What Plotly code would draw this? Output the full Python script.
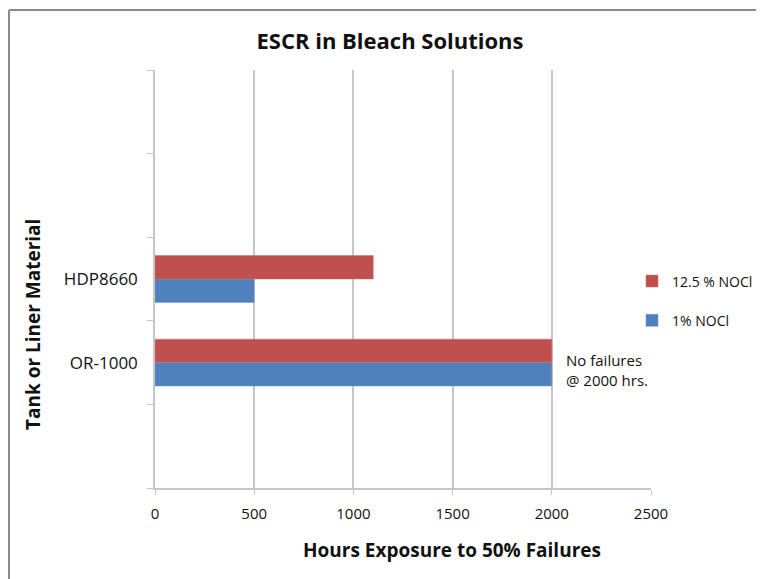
import plotly.graph_objects as go

categories = [" ", "OR-1000", "HDP8660", "  ", "   "]
materials = ["OR-1000", "HDP8660"]
noci_1 = [2000, 500]
noci_12_5 = [2000, 1100]
x_ticks = [0, 500, 1000, 1500, 2000, 2500]

FONT = "Open Sans"
grid = "#c6c6c6"

# page offset of the figure (browser body margin)
OFF = 8
FW, FH = 764 - OFF, 579 - OFF
# plot-area pixel geometry in page coordinates
L, R, T, B = 155, 651, 70, 488
W, H = R - L, B - T


def px(xp):
    return (xp - L) / W


def py(yp):
    return (B - yp) / H


fig = go.Figure()
fig.add_trace(go.Bar(
    y=materials, x=noci_1, orientation="h", name="1% NOCl",
    marker=dict(color="#4F81BD", line=dict(color="#6f95c8", width=0.5)),
    legendrank=2, legendgroup="g2",
))
fig.add_trace(go.Bar(
    y=materials, x=noci_12_5, orientation="h", name="12.5 % NOCl",
    marker=dict(color="#C0504D", line=dict(color="#cc6d6a", width=0.5)),
    legendrank=1, legendgroup="g1",
))

fig.update_layout(
    width=FW, height=FH,
    margin=dict(l=L - OFF, r=FW - (R - OFF), t=T - OFF, b=FH - (B - OFF),
                autoexpand=False),
    paper_bgcolor="white", plot_bgcolor="white",
    barmode="group", bargap=0.44, bargroupgap=0,
    font=dict(family=FONT, color="#1a1a1a"),
    title=dict(text="<b>ESCR in Bleach Solutions</b>", x=px(390), xref="paper",
               xanchor="center", y=1 - (41 - OFF) / FH, yanchor="middle",
               font=dict(size=22, color="#111")),
    legend=dict(x=px(632), xanchor="left", y=py(301), yanchor="middle",
                traceorder="grouped", tracegroupgap=18,
                font=dict(size=14, color="#111"), itemwidth=30),
    xaxis=dict(range=[0, 2500], tickvals=x_ticks, ticktext=[str(v) for v in x_ticks],
               showgrid=True, gridcolor=grid, gridwidth=1.5,
               showline=True, linecolor=grid, linewidth=1.5,
               ticks="outside", ticklen=5, tickcolor=grid,
               tickfont=dict(size=15, color="#111"), ticklabelstandoff=6,
               zeroline=False, fixedrange=True, automargin=False),
    yaxis=dict(type="category", categoryorder="array", categoryarray=categories,
               range=[-0.5, 4.5], tickson="boundaries",
               showline=True, linecolor=grid, linewidth=1.5,
               ticks="outside", ticklen=6, tickcolor=grid,
               showgrid=False, tickfont=dict(size=17, color="#111"),
               ticklabelstandoff=12, fixedrange=True, automargin=False),
    showlegend=True,
)

fig.add_annotation(
    xref="paper", yref="paper", x=px(452), y=py(550),
    text="<b>Hours Exposure to 50% Failures</b>", showarrow=False,
    font=dict(size=19, color="#111"), xanchor="center", yanchor="middle",
)
fig.add_annotation(
    xref="paper", yref="paper", x=px(33), y=py(325),
    text="<b>Tank or Liner Material</b>", textangle=-90, showarrow=False,
    font=dict(size=19, color="#111"), xanchor="center", yanchor="middle",
)
fig.add_annotation(
    xref="x", yref="y", x=2060, y="OR-1000", yshift=-7,
    text="No failures<br>@ 2000 hrs.", showarrow=False, align="left",
    xanchor="left", yanchor="middle", font=dict(size=15, color="#111"),
)

# outer frame (top and left edges)
fx = px(OFF + 1)
fig.add_shape(type="line", xref="paper", yref="paper", x0=fx, x1=px(764),
              y0=py(10), y1=py(10), line=dict(color="#8a8a8a", width=2))
fig.add_shape(type="line", xref="paper", yref="paper", x0=fx, x1=fx,
              y0=py(10), y1=py(579), line=dict(color="#8a8a8a", width=2))

fig.write_html("out.html")
